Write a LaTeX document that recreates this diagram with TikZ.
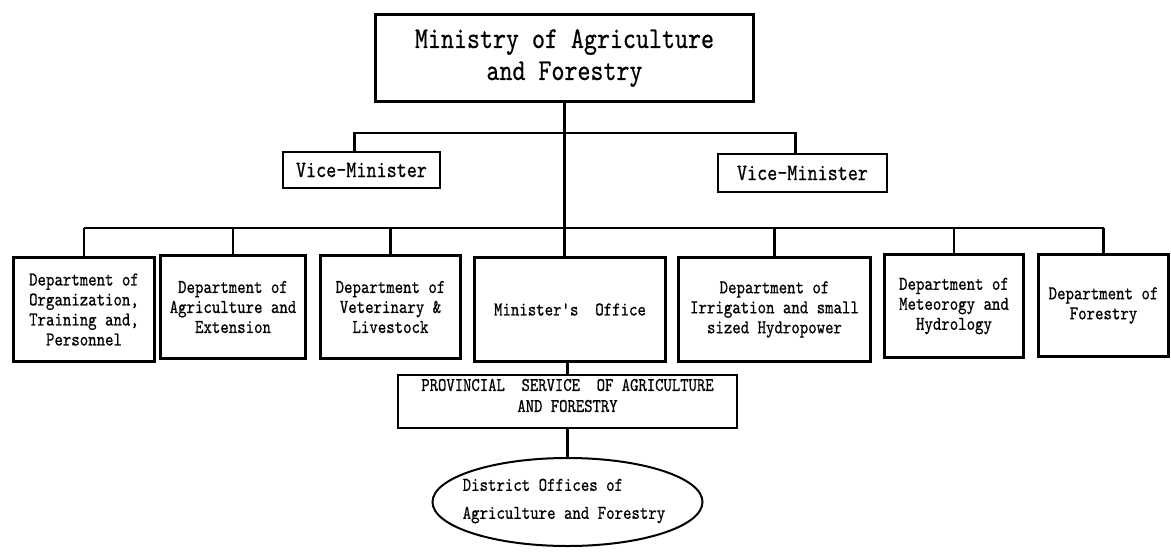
\documentclass[tikz,border=0pt]{standalone}
\usepackage{fontspec}
\setmonofont{lmmono10-regular.otf}[FakeStretch=0.82, FakeBold=0.6]
\usetikzlibrary{shapes.geometric}
\tikzset{
	orgbox/.style={draw, line width=2.6pt, inner sep=0pt, align=center, font=\ttfamily\fontsize{19.6}{20}\selectfont},
	vicebox/.style={draw, line width=2pt, inner sep=0pt, font=\ttfamily\fontsize{23.4}{23}\selectfont},
	link/.style={line width=2.3pt},
}

\begin{document}
\begin{tikzpicture}[x=1pt, y=-1pt]
			%%%%% START %%%%%
			\useasboundingbox (0,0) rectangle (1171,555);
			
			\node[orgbox, minimum width=378pt, minimum height=87pt, font=\ttfamily\fontsize{30.2}{32}\selectfont] (maf) at (564.5,58) {Ministry of Agriculture\\and Forestry};
			
			\node[vicebox, minimum width=157pt, minimum height=36pt] (vicel) at (361.5,170) {Vice-Minister};
			\node[vicebox, minimum width=169pt, minimum height=38pt] (vicer) at (802.5,173) {Vice-Minister};
			
			\node[orgbox, minimum width=141pt, minimum height=104pt] (orgdept) at (84,309.5) {Department of\\Organization,\\Training and,\\Personnel};
			\node[orgbox, minimum width=145pt, minimum height=103pt] (agridept) at (233,307) {Department of\\Agriculture and\\Extension};
			\node[orgbox, minimum width=140pt, minimum height=103pt] (vetdept) at (390.5,307) {Department of\\Veterinary \&\\Livestock};
			\node[orgbox, minimum width=191pt, minimum height=104pt] (minoff) at (570,309.5) {Minister's\ \ Office};
			\node[orgbox, minimum width=192pt, minimum height=104pt] (irrdept) at (774.5,309.5) {Department of\\Irrigation and small\\sized Hydropower};
			\node[orgbox, minimum width=139pt, minimum height=103pt] (metdept) at (954,306) {Department of\\Meteorogy and\\Hydrology};
			\node[orgbox, minimum width=130pt, minimum height=102pt] (fordept) at (1103.5,305.5) {Department of\\Forestry};
			
			\node[draw, line width=2.3pt, minimum width=339pt, minimum height=53pt] (prov) at (567.5,401.5) {};
			\node[align=center, inner sep=0pt, font=\ttfamily\fontsize{19.4}{21}\selectfont] (provtext) at (567.5,395.5) {PROVINCIAL\ \ SERVICE\ \ OF AGRICULTURE\\AND FORESTRY};
			
			\node[draw, ellipse, line width=2pt, minimum width=270pt, minimum height=88pt] (distr) at (567.5,502) {};
			\node[align=left, inner sep=0pt, font=\ttfamily\fontsize{19.6}{28}\selectfont] (distrtext) at (564,501) {District Offices of\\Agriculture and Forestry};
			
			\coordinate (vbus) at (564,133);
			\coordinate (dbus) at (564,228);
			
			\draw[link] (maf.south) -- (maf.south |- minoff.north);
			\draw[link] ([xshift=-7pt]vicel.north) |- (vbus) -| ([xshift=-7pt]vicer.north);
			\draw[link] (orgdept.north |- dbus) -- (fordept.north |- dbus);
			\foreach \d in {orgdept,agridept,vetdept,irrdept,metdept,fordept}
				\draw[link] (\d.north |- dbus) -- (\d.north);
			\draw[link] (prov.north) -- (prov.north |- minoff.south);
			\draw[link] (prov.south) -- (distr.north);
			
			%%%%% END %%%%%
\end{tikzpicture}
\end{document}
